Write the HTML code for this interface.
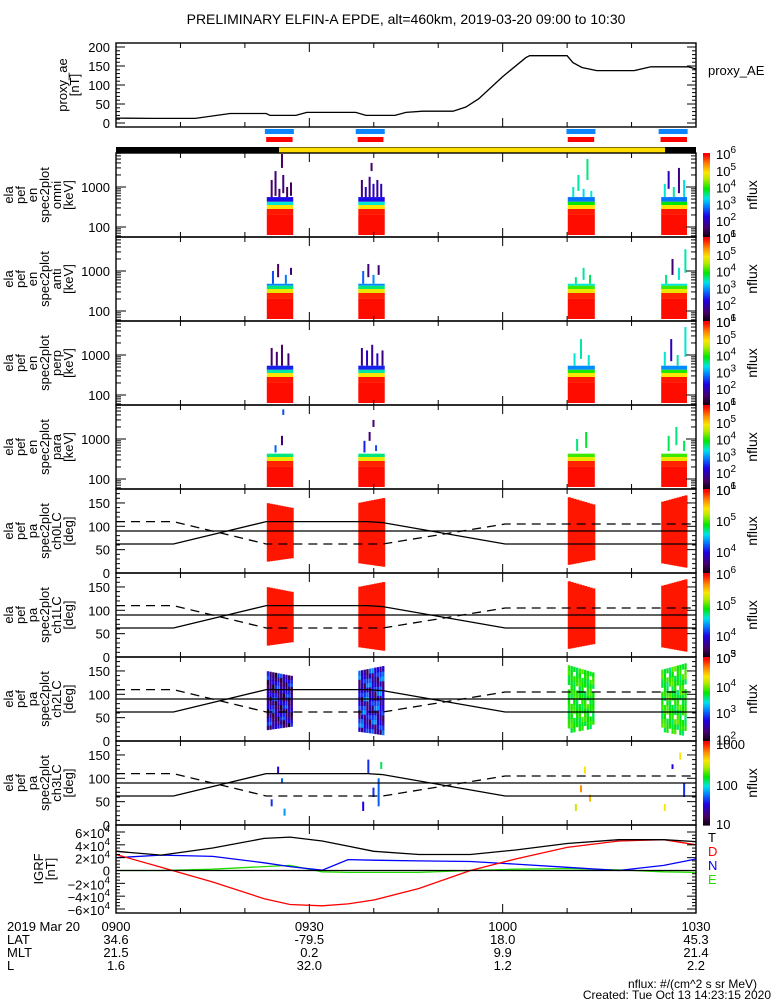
<!DOCTYPE html>
<html><head><meta charset="utf-8">
<style>
html,body{margin:0;padding:0;background:#fff;}
svg{display:block;font-family:"Liberation Sans",sans-serif;}
text{fill:#000;}
</style></head>
<body>
<svg id="plot" width="775" height="1000" viewBox="0 0 775 1000" xmlns="http://www.w3.org/2000/svg">
<rect x="0" y="0" width="775" height="1000" fill="#fff"/>
<text x="406" y="24" font-size="14" text-anchor="middle">PRELIMINARY ELFIN-A EPDE, alt=460km, 2019-03-20 09:00 to 10:30</text>
<g id="layer"></g>
</svg>
<script>
// ---------------- DATA ----------------
const aeMinutes=[0,5.4,12.3,17.7,23.3,23.9,27.9,29.6,37.2,38.8,43.3,45,47.6,52.3,54.3,56.3,60,63.6,64.2,70,70.9,72.3,74.6,80.4,83,88.8,90];
const aeValues=[13,12,12,25,25,20,20,28,28,20,20,28,31,31,42,64,122,172,177,177,159,146,138,138,148,148,142];
const blueBars=[[23.1,27.6],[37.2,41.7],[69.9,74.4],[84.2,88.7]];
const redBars=[[23.3,27.4],[37.5,41.5],[70.1,74.2],[84.5,88.6]];
const yellowSpan=[25.3,85.2];
const zoneMinutes=[[23.4,27.5],[37.6,41.7],[70.1,74.3],[84.6,88.6]];
// energy spectrogram bands: [eLo,eHi,logflux] for each panel
const bandsOmni=[[56,200,5.95],[200,282,5.9],[282,355,4.9],[355,430,3.4],[430,560,2.3]];
const bandsAnti=[[56,200,5.95],[200,282,5.85],[282,355,4.8],[355,430,3.6],[430,480,2.9]];
const bandsPerp=[[56,200,5.95],[200,282,5.9],[282,355,4.9],[355,430,3.5],[430,540,2.4]];
const bandsPara=[[56,200,5.95],[200,282,5.85],[282,355,4.8],[355,430,3.6]];
// sticks: [minute, eLo, eHi, logflux]
const sticksOmni=[[24.0,560,1500,1.5],[24.6,600,2500,1.6],[25.2,560,900,1.5],[25.8,700,2000,1.6],[26.4,560,1000,1.4],[27.0,600,1300,1.5],[25.6,3000,7000,1.5],
 [38.0,560,1500,1.6],[38.6,560,1000,2.0],[39.2,560,1800,1.7],[39.8,560,1200,2.1],[40.4,560,1500,1.8],[41.0,560,1200,2.0],[39.5,2500,4000,1.5],
 [70.8,560,1000,3.4],[71.6,800,2000,3.5],[72.4,560,900,3.3],[73.0,1500,5000,3.6],[73.6,560,800,3.4],
 [85.0,560,1200,3.4],[85.6,900,2500,2.0],[86.4,560,1000,3.5],[87.2,700,3000,1.7],[88.0,560,1500,3.3]];
const sticksAnti=[[24.2,480,1000,2.6],[25.0,700,1500,1.5],[26.2,480,800,2.8],[27.0,800,1200,1.6],
 [38.2,480,1000,2.7],[39.0,700,1500,1.6],[39.8,480,800,2.9],[40.6,800,1400,1.6],
 [71.2,480,700,3.6],[72.4,600,1200,3.5],[73.4,480,800,3.7],
 [85.2,480,800,3.6],[86.2,800,2000,1.6],[87.2,600,1200,3.4],[88.2,900,3500,3.5]];
const sticksPerp=[[24.0,540,1500,1.5],[24.8,540,1200,1.6],[25.6,540,1800,1.5],[26.6,540,1100,1.6],
 [38.0,540,1500,1.7],[38.8,540,1300,2.0],[39.6,540,1800,1.8],[40.4,540,1100,2.1],[41.2,540,1300,1.7],
 [71.0,540,1100,3.4],[72.0,800,2500,3.5],[73.2,540,1000,3.4],
 [85.0,540,1200,3.4],[86.0,700,2500,2.0],[87.0,540,1000,3.5],[88.2,900,5000,3.4]];
const sticksPara=[[24.6,460,700,2.7],[25.6,700,1200,1.6],[25.8,4000,5500,2.6],
 [38.4,460,900,2.4],[39.2,900,1500,1.6],[40.2,500,700,2.6],[39.8,2000,3000,1.6],
 [71.4,500,1000,3.6],[72.8,600,1500,3.8],
 [85.6,500,1200,3.7],[86.8,700,2000,3.6],[88.0,500,900,3.7]];
// pitch-angle lines
const losMinutes=[0,8.9,23.3,39,41.4,60.4,90];
const solidPA=[62,62,110,110,108,62,62];
const dashMinutes=[0,8.9,23.3,41.4,60.4,90];
const dashPA=[110,110,62,62,105,105];
// PA blocks per zone: [loStart,hiStart,loEnd,hiEnd]
const paBlocks=[[24,150,32,139],[21,150,13,161],[17,163,28,146],[21,152,11,167]];
const texPattern=[0,0.6,-0.4,0.9,0.2,-0.7,0.5,-0.2,1.1,-0.5,0.3,0.8,-0.9,0.1];
const ch2Base=[2.4,2.6,3.75,3.75];
const ch2Spread=[0.5,0.5,0.15,0.2];
const sticksCh3=[[24.0,40,55,1.6],[25.0,110,125,1.5],[25.6,90,100,1.7],[26.0,20,35,1.8],[38.2,30,50,1.5],[39.0,110,140,1.6],[39.8,60,80,1.6],[40.6,40,100,1.7],[41.0,120,135,2.1],
 [71.2,30,45,2.5],[72.0,70,85,2.8],[72.6,110,125,2.6],[73.4,50,65,2.7],[85.0,30,45,2.6],[86.2,120,130,1.5],[87.4,140,155,2.6],[88.0,60,90,1.6]];
// IGRF components (nT)
const igrfMinutes=[0,7,15,23,27,32,36,40,47,55,62,70,78,85,90];
const igrfT=[30000,24000,35000,50000,52000,46000,38000,30000,25000,25000,32000,42000,48000,48000,45000];
const igrfD=[25000,5000,-18000,-44000,-53000,-55000,-52000,-46000,-28000,0,18000,36000,46000,48000,40000];
const igrfN=[20000,24000,22000,12000,6000,500,17000,16000,15000,14000,10000,5000,0,8000,18000];
const igrfE=[0,0,2000,6000,8000,-2000,-3000,-3000,-3000,0,2000,3000,1000,-2000,-3000];
const bottomRows=[["2019 Mar 20","0900","0930","1000","1030"],["LAT","34.6","-79.5","18.0","45.3"],["MLT","21.5","0.2","9.9","21.4"],["L","1.6","32.0","1.2","2.2"]];
const tickMinutes=[0,30,60,90];

// ---------------- helpers ----------------
const NS="http://www.w3.org/2000/svg";
const layer=document.getElementById('layer');
function mk(tag,attrs,parent){const e=document.createElementNS(NS,tag);for(const k in attrs)e.setAttribute(k,attrs[k]);(parent||layer).appendChild(e);return e;}
const X0=116,X1=696;
const xm=m=>X0+m*(X1-X0)/90;
const stops=[[0,[20,0,20]],[0.1,[70,0,100]],[0.25,[30,0,230]],[0.38,[0,140,255]],[0.47,[0,230,230]],[0.58,[0,230,0]],[0.7,[180,235,0]],[0.78,[250,230,0]],[0.88,[255,140,0]],[1,[255,0,0]]];
function cmap(t){t=Math.max(0,Math.min(1,t));for(let i=1;i<stops.length;i++){if(t<=stops[i][0]){const a=stops[i-1],b=stops[i];const f=(t-a[0])/(b[0]-a[0]);const c=a[1].map((v,j)=>Math.round(v+(b[1][j]-v)*f));return `rgb(${c[0]},${c[1]},${c[2]})`;}}return 'rgb(255,0,0)';}
function label(x,y,str,size,anchor,name,color){const t=mk('text',{x:x,y:y,'font-size':size||13,'text-anchor':anchor||'end'});t.textContent=str;if(color)t.setAttribute('style','fill:'+color);return t;}
function sciLabel(x,y,base,exp,name){const t=mk('text',{x:x,y:y,'font-size':13,'text-anchor':'start'});t.textContent=base;const s=mk('tspan',{dy:-6,'font-size':10},t);s.textContent=exp;return t;}
function sideLabel(lines,xs,cy,name){const g=mk('g',{});lines.forEach((l,i)=>{const t=mk('text',{x:0,y:0,'font-size':13,'text-anchor':'middle',transform:`translate(${xs[i]},${cy}) rotate(-90)`},g);t.textContent=l;});}
function box(y0,y1,name){const r=mk('rect',{x:X0,y:y0,width:X1-X0,height:y1-y0,fill:'none',stroke:'#000','stroke-width':1.4});}
function ytick(y,len){mk('line',{x1:X0,x2:X0+len,y1:y,y2:y,stroke:'#000','stroke-width':1});mk('line',{x1:X1-len,x2:X1,y1:y,y2:y,stroke:'#000','stroke-width':1});}
function xticks(y0,y1){for(let m=10;m<90;m+=10){const L=(m%30===0)?9:5;mk('line',{x1:xm(m),x2:xm(m),y1:y1,y2:y1-L,stroke:'#000'});mk('line',{x1:xm(m),x2:xm(m),y1:y0,y2:y0+L,stroke:'#000'});}}
function polyline(ms,vs,fy,color,dash,name){const pts=ms.map((m,i)=>xm(m).toFixed(1)+','+fy(vs[i]).toFixed(1)).join(' ');const p=mk('polyline',{points:pts,fill:'none',stroke:color,'stroke-width':1.3});if(dash)p.setAttribute('stroke-dasharray',dash);}
function colorbar(T,lo,hi,labels,name){const g=mk('g',{});const H=84,n=42;for(let i=0;i<n;i++){mk('rect',{x:703,y:T+H-(i+1)*H/n,width:7,height:H/n+0.6,fill:cmap(i/(n-1))},g);}
 labels.forEach(l=>{const y=T+H-(l.v-lo)/(hi-lo)*H+6;if(l.e!==undefined)sciLabel(716,y,l.b,l.e,'colorbar-tick-label');else label(716,y,l.b,13,'start','colorbar-tick-label');});
 const t=mk('text',{x:0,y:0,'font-size':14,'text-anchor':'middle',transform:`translate(757,${T+42}) rotate(-90)`});t.textContent='nflux';}

// ---------------- proxy AE ----------------
const aeTop=43,aeBot=127;const yAE=v=>123-v*0.38;
box(aeTop,aeBot,'proxy-ae-panel');
for(let v=0;v<=200;v+=10)ytick(yAE(v),v%50===0?9:4);
[0,50,100,150,200].forEach(v=>label(110,yAE(v)+5,String(v),13,'end','ae-y-tick-label'));
xticks(aeTop,aeBot);
polyline(aeMinutes,aeValues,yAE,'#000',null,'proxy-ae-line');
sideLabel(['proxy_ae','[nT]'],[67,79],85,'proxy-ae-y-title');
label(708,75,'proxy_AE',13,'start','proxy-ae-legend');

// bars
blueBars.forEach(b=>{const r=mk('rect',{x:xm(b[0]),y:129,width:xm(b[1])-xm(b[0]),height:5,fill:'#0a84ff'});});
redBars.forEach(b=>{const r=mk('rect',{x:xm(b[0]),y:137,width:xm(b[1])-xm(b[0]),height:5,fill:'#ff0000'});});
(function(){const r1=mk('rect',{x:X0,y:147,width:X1-X0,height:6,fill:'#000'});
const r2=mk('rect',{x:xm(yellowSpan[0]),y:147.5,width:xm(yellowSpan[1])-xm(yellowSpan[0]),height:5,fill:'#ffdd00'});})();

// ---------------- energy spectrograms ----------------
const eNames=['omni','anti','perp','para'];
const eBands=[bandsOmni,bandsAnti,bandsPerp,bandsPara];
const eSticks=[sticksOmni,sticksAnti,sticksPerp,sticksPara];
const eLabels=[{v:1,b:'10',e:'1'},{v:2,b:'10',e:'2'},{v:3,b:'10',e:'3'},{v:4,b:'10',e:'4'},{v:5,b:'10',e:'5'},{v:6,b:'10',e:'6'}];
for(let p=0;p<4;p++){
 const T=153+84*p,B=T+84;const yE=e=>T+34-40*Math.log10(e/1000);const cf=lf=>cmap((lf-1)/5);
 const g=mk('g',{});
 zoneMinutes.forEach((z,zi)=>{eBands[p].forEach(bd=>{const y1=Math.max(yE(bd[1]),T),y2=Math.min(yE(bd[0]),B-2);mk('rect',{x:xm(z[0]),y:y1,width:xm(z[1])-xm(z[0]),height:y2-y1,fill:cf(bd[2]-(zi>=2&&bd[2]<4?-0.5:0))},g);});});
 eSticks[p].forEach(s=>{const y1=Math.max(yE(s[2]),T+1);mk('rect',{x:xm(s[0]),y:y1,width:2,height:yE(s[1])-y1,fill:cf(s[3])},g);});
 box(T,B,'energy-panel-'+eNames[p]);
 for(let d=1;d<=4;d++)for(let k=1;k<10;k++){const y=yE(k*Math.pow(10,d));if(y>T&&y<B)ytick(y,k===1?10:5);}
 label(110,yE(1000)+5,'1000',13,'end','energy-tick-label');label(110,yE(100)+5,'100',13,'end','energy-tick-label');
 xticks(T,B);
 sideLabel(['ela','pef','en','spec2plot',eNames[p],'[keV]'],[13,25,37,49,61,73],T+42,'energy-y-title-'+eNames[p]);
 colorbar(T,1,6,eLabels,'colorbar-energy-'+eNames[p]);
}

// ---------------- pitch-angle spectrograms ----------------
const chNames=['ch0LC','ch1LC','ch2LC','ch3LC'];
const chRange=[[3.3,6],[3.3,6],[1.9,5.1],[1,3.05]];
const chLabels=[[{v:6,b:'10',e:'6'},{v:5,b:'10',e:'5'},{v:4,b:'10',e:'4'}],[{v:6,b:'10',e:'6'},{v:5,b:'10',e:'5'},{v:4,b:'10',e:'4'},{v:3.3,b:'10',e:'3'}],[{v:5.1,b:'10',e:'5'},{v:4,b:'10',e:'4'},{v:3,b:'10',e:'3'},{v:2,b:'10',e:'2'}],[{v:3,b:'1000'},{v:2,b:'100'},{v:1.05,b:'10'}]];
for(let p=0;p<4;p++){
 const T=489+84*p,B=T+84;const yP=d=>B-d*0.467;const [lo,hi]=chRange[p];const cf=lf=>cmap((lf-lo)/(hi-lo));
 const g=mk('g',{});
 zoneMinutes.forEach((z,zi)=>{const b=paBlocks[zi];const ncol=10;
  for(let c=0;c<ncol;c++){const f=(c+0.5)/ncol;const loD=b[0]+(b[2]-b[0])*f,hiD=b[1]+(b[3]-b[1])*f;const xa=xm(z[0]+(z[1]-z[0])*c/ncol),xb=xm(z[0]+(z[1]-z[0])*(c+1)/ncol);
   if(p<2){mk('rect',{x:xa,y:yP(hiD),width:xb-xa+0.5,height:yP(loD)-yP(hiD),fill:cf(5.95)},g);}
   else if(p===2){const nr=14;for(let r=0;r<nr;r++){const d1=loD+(hiD-loD)*r/nr,d2=loD+(hiD-loD)*(r+1)/nr;const v=ch2Base[zi]+texPattern[(c*5+r*3)%texPattern.length]*ch2Spread[zi];if(zi>=2&&(c*3+r)%9===0)continue;mk('rect',{x:xa,y:yP(d2),width:xb-xa-0.3,height:yP(d1)-yP(d2)+0.5,fill:cf(v)},g);}}
  }});
 if(p===3){sticksCh3.forEach(s=>{mk('rect',{x:xm(s[0]),y:yP(s[2]),width:2,height:yP(s[1])-yP(s[2]),fill:cf(s[3])},g);});}
 polyline(losMinutes,solidPA,yP,'#000',null,'loss-cone-line');
 polyline(dashMinutes,dashPA,yP,'#000','9,6','anti-loss-cone-line');
 const h=mk('line',{x1:X0,x2:X1,y1:yP(90),y2:yP(90),stroke:'#000','stroke-width':1.3});
 box(T,B,'pa-panel-'+chNames[p]);
 for(let d=0;d<=180;d+=10)ytick(yP(d),d%50===0?9:4);
 [0,50,100,150].forEach(d=>label(110,yP(d)+5,String(d),13,'end','pa-tick-label'));
 xticks(T,B);
 sideLabel(['ela','pef','pa','spec2plot',chNames[p],'[deg]'],[13,25,37,49,61,73],T+42,'pa-y-title-'+chNames[p]);
 colorbar(T,lo,hi,chLabels[p],'colorbar-pa-'+chNames[p]);
}

// ---------------- IGRF ----------------
(function(){const T=825,B=913;const yI=v=>870.5-v*38.5/60000;
 polyline(igrfMinutes,igrfE,yI,'#22dd00',null,'igrf-e-line');
 polyline(igrfMinutes,igrfN,yI,'#0000ff',null,'igrf-n-line');
 polyline(igrfMinutes,igrfD,yI,'#ff0000',null,'igrf-d-line');
 polyline(igrfMinutes,igrfT,yI,'#000',null,'igrf-total-line');
 const z=mk('line',{x1:X0,x2:X1,y1:yI(0),y2:yI(0),stroke:'#000','stroke-width':1.2});
 box(T,B,'igrf-panel');
 for(let v=-60000;v<=60000;v+=5000)ytick(yI(v),v%20000===0?9:4);
 [60000,40000,20000,-20000,-40000,-60000].forEach(v=>{const t=mk('text',{x:110,y:yI(v)+6,'font-size':13,'text-anchor':'end'});t.textContent=(v<0?'\u2212':'')+(Math.abs(v)/10000)+'\u00d710';const s=mk('tspan',{dy:-6,'font-size':10},t);s.textContent='4';});
 label(110,yI(0)+5,'0',13,'end','igrf-tick-label');
 xticks(T,B);
 sideLabel(['IGRF','[nT]'],[43,55],869,'igrf-y-title');
 label(708,842,'T',13,'start','legend-t','#000');label(708,856,'D',13,'start','legend-d','#ff0000');label(708,870,'N',13,'start','legend-n','#0000ff');label(708,884,'E',13,'start','legend-e','#22dd00');
})();

// ---------------- bottom labels ----------------
bottomRows.forEach((row,ri)=>{const y=931+ri*13;label(7,y,row[0],13,'start','bottom-row-label');tickMinutes.forEach((m,i)=>label(xm(m),y,row[i+1],13,'middle','bottom-row-value'));});
label(757,988,'nflux: #/(cm^2 s sr MeV)',12,'end','units-note');
label(771,999,'Created: Tue Oct 13 14:23:15 2020',12,'end','created-note');
</script>
</body></html>
